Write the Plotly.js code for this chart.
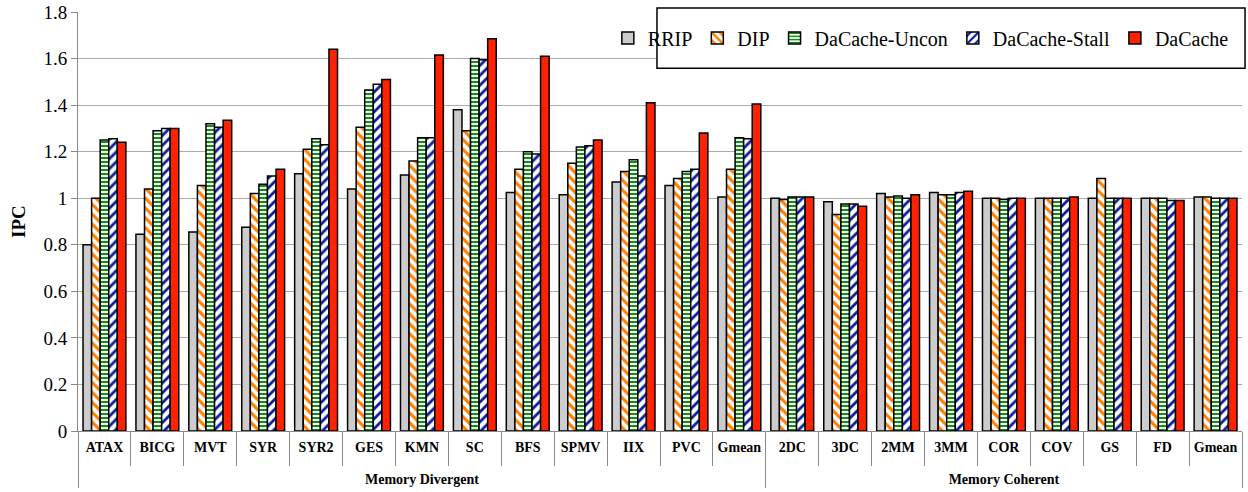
<!DOCTYPE html>
<html>
<head>
<meta charset="utf-8">
<script src="https://cdn.plot.ly/plotly-3.0.1.min.js"></script>
<style>html,body{margin:0;padding:0;background:#fff;}#chart{width:1248px;height:492px;}
.legendtext{font-family:"Liberation Serif", serif !important;}</style>
</head>
<body>
<div id="chart"></div>
<script>
const groups = ["Memory Divergent","Memory Divergent","Memory Divergent","Memory Divergent","Memory Divergent","Memory Divergent","Memory Divergent","Memory Divergent","Memory Divergent","Memory Divergent","Memory Divergent","Memory Divergent","Memory Divergent",
  "Memory Coherent","Memory Coherent","Memory Coherent","Memory Coherent","Memory Coherent","Memory Coherent","Memory Coherent","Memory Coherent","Memory Coherent"];
// second "Gmean" carries a zero-width space so the two geometric means stay separate categories
const categories = ["ATAX","BICG","MVT","SYR","SYR2","GES","KMN","SC","BFS","SPMV","IIX","PVC","Gmean",
  "2DC","3DC","2MM","3MM","COR","COV","GS","FD","Gmean\u200b"];
const seriesNames = ["RRIP","DIP","DaCache-Uncon","DaCache-Stall","DaCache"];
const rrip   = [0.80,0.845,0.855,0.875,1.105,1.04,1.10,1.38,1.025,1.015,1.07,1.055,1.005, 1.00,0.985,1.02,1.025,1.00,1.00,1.00,1.00,1.005];
const dip    = [1.00,1.04,1.055,1.02,1.21,1.305,1.16,1.29,1.125,1.15,1.115,1.085,1.125, 0.995,0.93,1.005,1.015,1.00,1.00,1.085,1.00,1.005];
const uncon  = [1.25,1.29,1.32,1.06,1.255,1.465,1.26,1.60,1.20,1.22,1.165,1.115,1.26, 1.005,0.975,1.01,1.015,0.995,1.00,1.00,1.00,1.00];
const stall  = [1.255,1.30,1.305,1.095,1.23,1.49,1.26,1.595,1.19,1.225,1.095,1.125,1.255, 1.005,0.975,1.00,1.025,1.00,1.00,1.00,0.99,1.00];
const dacache= [1.24,1.30,1.335,1.125,1.64,1.51,1.615,1.685,1.61,1.25,1.41,1.28,1.405, 1.005,0.965,1.015,1.03,1.00,1.005,1.00,0.99,1.00];

const outer = groups.map(g => '<br>' + g);
const x = [outer, categories];
const line = {color:'#000', width:1.5};
const nm = s => '<span style="font-family:\'Liberation Serif\', serif">' + s + '</span>';
const traces = [
  {type:'bar', name:nm(seriesNames[0]), x:x, y:rrip, marker:{color:'#cccccc', line:line}},
  {type:'bar', name:nm(seriesNames[1]), x:x, y:dip, marker:{color:'#ffffff', line:line, pattern:{shape:'\\', fgcolor:'#ff8000', bgcolor:'#ffffff', fgopacity:1, fillmode:'overlay', size:7, solidity:0.45}}},
  {type:'bar', name:nm(seriesNames[2]), x:x, y:uncon, marker:{color:'#ffffff', line:line, pattern:{shape:'-', fgcolor:'#109010', bgcolor:'#ffffff', fgopacity:1, fillmode:'overlay', size:4, solidity:0.5}}},
  {type:'bar', name:nm(seriesNames[3]), x:x, y:stall, marker:{color:'#ffffff', line:line, pattern:{shape:'/', fgcolor:'#0a1fa0', bgcolor:'#ffffff', fgopacity:1, fillmode:'overlay', size:7, solidity:0.4}}},
  {type:'bar', name:nm(seriesNames[4]), x:x, y:dacache, marker:{color:'#ff2200', line:line}}
];
const layout = {
  width:1248, height:492,
  margin:{l:78, r:6, t:12, b:61, autoexpand:false},
  paper_bgcolor:'#fff', plot_bgcolor:'#fff',
  font:{family:'Liberation Serif', color:'#000'},
  barmode:'group', bargap:0.19, bargroupgap:0,
  showlegend:true,
  legend:{orientation:'h', x:0.993, xanchor:'right', y:0.938, yanchor:'middle',
    borderwidth:0, bgcolor:'rgba(255,255,255,0)',
    font:{size:20, family:'Liberation Serif'}},
  shapes:[{type:'rect', xref:'paper', yref:'paper', x0:0.4974, x1:1.0026, y0:0.866, y1:1.0095,
    line:{color:'#000', width:1.5}, fillcolor:'#fff', layer:'above'}],
  xaxis:{type:'multicategory', showline:true, linecolor:'#888', linewidth:1, tickangle:0,
    ticks:'outside', ticklen:34, tickcolor:'#888', tickson:'boundaries', ticklabelstandoff:3,
    showdividers:true, dividercolor:'#888', dividerwidth:1,
    tickfont:{size:14, weight:'bold'}},
  yaxis:{range:[0,1.8], dtick:0.2, showgrid:true, gridcolor:'#aaa', gridwidth:1,
    showline:true, linecolor:'#888', ticks:'outside', ticklen:6, tickcolor:'#888',
    tickfont:{size:19}, zeroline:false,
    title:{text:'<b>IPC</b>', font:{size:19}, standoff:12}}
};
Plotly.newPlot('chart', traces, layout, {displayModeBar:false, staticPlot:true});
</script>
</body>
</html>
